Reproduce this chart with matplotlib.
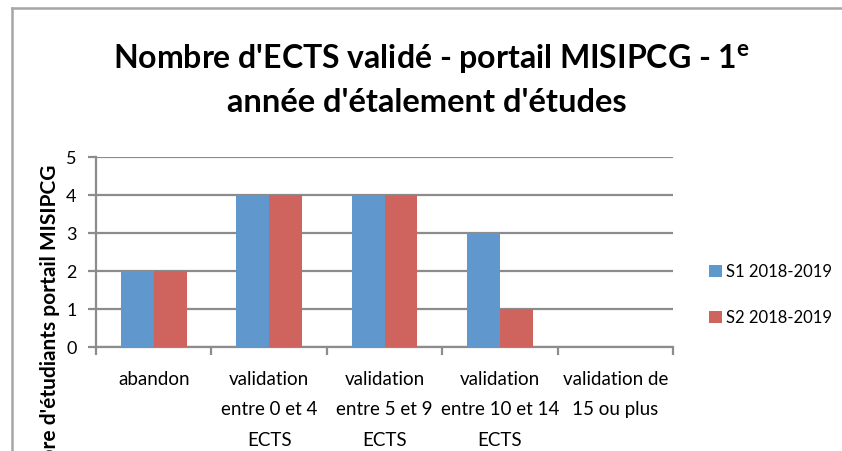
import numpy as np
import matplotlib
matplotlib.use('Agg')
import matplotlib.pyplot as plt
from matplotlib.lines import Line2D

categories = ['abandon', 'validation\nentre 0 et 4\nECTS', 'validation\nentre 5 et 9\nECTS',
              'validation\nentre 10 et 14\nECTS', 'validation de\n15 ou plus']
s1 = [2, 4, 4, 3, 0]
s2 = [2, 4, 4, 1, 0]
series_names = ['S1 2018-2019', 'S2 2018-2019']
colors = ['#6097CD', '#CF645E']

plt.rcParams['font.family'] = ['Lato', 'DejaVu Sans']
plt.rcParams['mathtext.fontset'] = 'custom'
plt.rcParams['mathtext.rm'] = 'Lato:bold'
plt.rcParams['mathtext.bf'] = 'Lato:bold'
plt.rcParams['mathtext.it'] = 'Lato:bold'

W, H = 842, 451
fig = plt.figure(figsize=(W / 100, H / 100), dpi=100)
ax = fig.add_axes([96 / W, 1 - 347 / H, (673 - 96) / W, (347 - 157) / H])

x = np.arange(len(categories))
bw = 0.285
ax.bar(x - bw / 2, s1, bw, color=colors[0], label=series_names[0], zorder=3)
ax.bar(x + bw / 2, s2, bw, color=colors[1], label=series_names[1], zorder=3)

grid_c = '#8C8C8C'
ax.set_xlim(-0.5, len(categories) - 0.5)
ax.set_ylim(0, 5)
ax.set_yticks(range(6))
ax.yaxis.grid(True, color=grid_c, linewidth=1.6, zorder=0)
ax.set_xticks(x)
ax.set_xticklabels(categories, fontsize=13.5)
for lbl in ax.get_xticklabels():
    lbl.set_linespacing(1.98)
ax.set_xticks(np.arange(len(categories) + 1) - 0.5, minor=True)
ax.tick_params(axis='x', which='major', length=0, pad=17)
ax.tick_params(axis='x', which='minor', length=6, width=1.6, color=grid_c, direction='out')
ax.tick_params(axis='y', length=6, width=1.6, color=grid_c, labelsize=13, pad=8)
for s in ['top', 'right']:
    ax.spines[s].set_visible(False)
for s in ['left', 'bottom']:
    ax.spines[s].set_color(grid_c)
    ax.spines[s].set_linewidth(1.6)

fig.text(50 / W, 1 - 165 / H, "Nombre d'étudiants portail MISIPCG", rotation=90,
         ha='center', va='top', fontsize=15, fontweight='bold')

fig.text(0.512, 1 - 68 / H, "Nombre d'ECTS validé - portail MISIPCG - 1$^{\\mathrm{e}}$",
         ha='center', va='baseline', fontsize=23, fontweight='bold')
fig.text(0.507, 1 - 112 / H, "année d'étalement d'études",
         ha='center', va='baseline', fontsize=23.5, fontweight='bold')

fig.legend(loc='center left', bbox_to_anchor=(709 / W, 1 - 295 / H), frameon=False,
           fontsize=12, handlelength=0.75, handleheight=0.75, handletextpad=0.3,
           labelspacing=1.8, borderpad=0, borderaxespad=0)

frame_c = '#A6A6A6'
fig.add_artist(Line2D([11.5 / W, 11.5 / W], [0, 1 - 7.5 / H], transform=fig.transFigure,
                      color=frame_c, linewidth=1.8))
fig.add_artist(Line2D([11.5 / W, 1], [1 - 7.5 / H, 1 - 7.5 / H], transform=fig.transFigure,
                      color=frame_c, linewidth=1.8))

fig.savefig('out.png', dpi=100)
